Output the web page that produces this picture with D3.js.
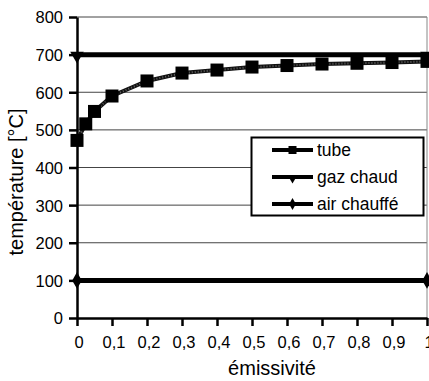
<!DOCTYPE html>
<html><head><meta charset="utf-8">
<script src="https://cdn.jsdelivr.net/npm/d3@7"></script>
<style>
body{margin:0;background:#fff;}
svg text{font-family:"Liberation Sans",Arial,sans-serif;}
</style></head>
<body><svg id="c" width="429" height="381"></svg>
<script>
const emissivity = [0, 0.025, 0.05, 0.1, 0.2, 0.3, 0.4, 0.5, 0.6, 0.7, 0.8, 0.9, 1];
const tube = [472, 516, 549, 590, 630, 651, 659, 667, 671, 675, 677, 679, 682];
const gazX = [0, 1];
const gazChaud = [700, 700];
const airX = [0, 1];
const airChauffe = [100, 100];
const xTicks = [0, 0.1, 0.2, 0.3, 0.4, 0.5, 0.6, 0.7, 0.8, 0.9, 1];
const yTicks = [0, 100, 200, 300, 400, 500, 600, 700, 800];
const seriesNames = ["tube", "gaz chaud", "air chauffé"];

const svg = d3.select("#c");
const L = 77, R = 427, T = 17, B = 318;
const x = d3.scaleLinear().domain([0, 1]).range([L, R]);
const y = d3.scaleLinear().domain([0, 800]).range([B, T]);
const fr = d3.formatLocale({decimal: ",", thousands: " ", grouping: [3], currency: ["", "€"]});
const fx = fr.format(".1~f");
const FF = '"Liberation Sans",Arial,sans-serif';

// gridlines
svg.append("g").selectAll("line").data(yTicks.filter(d => d > 0)).join("line")
  .attr("x1", L).attr("x2", R).attr("y1", d => y(d)).attr("y2", d => y(d))
  .attr("stroke", "#444").attr("stroke-width", 1);
// right border
svg.append("line").attr("x1", R).attr("x2", R).attr("y1", T).attr("y2", B)
  .attr("stroke", "#888").attr("stroke-width", 1);

// axes
const ya = svg.append("g").attr("transform", `translate(${L},0)`)
  .call(d3.axisLeft(y).tickValues(yTicks).tickSize(8).tickSizeOuter(0).tickPadding(6));
const xa = svg.append("g").attr("transform", `translate(0,${B})`)
  .call(d3.axisBottom(x).tickValues(xTicks).tickFormat(fx).tickSize(8).tickSizeOuter(0).tickPadding(10));
[ya, xa].forEach(a => {
  a.selectAll("path,line").attr("stroke", "#000").attr("stroke-width", 2.5);
  a.selectAll("text").attr("font-size", 16.5).attr("fill", "#000").style("font-family", FF);
});
xa.selectAll("text").attr("dy", "0.72em").attr("dx", 1.5);
ya.selectAll("text").attr("dy", "0.36em");

// axis titles
svg.append("text").attr("x", 272).attr("y", 375).attr("text-anchor", "middle")
  .attr("font-size", 20).text("émissivité");
svg.append("text").attr("transform", "translate(23,182) rotate(-90)").attr("text-anchor", "middle")
  .attr("font-size", 20).text("température [°C]");

// lines
const line = d3.line().x(d => x(d[0])).y(d => y(d[1]));
const gazData = gazX.map((v, i) => [v, gazChaud[i]]);
const airData = airX.map((v, i) => [v, airChauffe[i]]);
const tubeData = emissivity.map((v, i) => [v, tube[i]]);

svg.append("path").datum(gazData).attr("d", line).attr("fill", "none")
  .attr("stroke", "#000").attr("stroke-width", 5);
svg.append("path").datum(airData).attr("d", line).attr("fill", "none")
  .attr("stroke", "#000").attr("stroke-width", 5);
svg.append("path").datum(tubeData).attr("d", line).attr("fill", "none")
  .attr("stroke", "#111").attr("stroke-width", 4);
svg.append("path").datum(tubeData).attr("d", line).attr("fill", "none")
  .attr("stroke", "#fff").attr("stroke-opacity", 0.35).attr("stroke-width", 2).attr("stroke-dasharray", "1,2");

// markers
const sq = 13;
svg.append("g").selectAll("rect").data(tubeData).join("rect")
  .attr("x", d => x(d[0]) - sq / 2).attr("y", d => y(d[1]) - sq / 2)
  .attr("width", sq).attr("height", sq).attr("fill", "#000");
const tri = d3.symbol().type(d3.symbolTriangle).size(80);
svg.append("g").selectAll("path").data(gazData).join("path")
  .attr("d", tri).attr("transform", d => `translate(${x(d[0])},${y(d[1]) + 1}) rotate(180)`).attr("fill", "#000");
svg.append("g").selectAll("path").data(airData).join("path")
  .attr("d", d3.symbol().type(d3.symbolDiamond).size(80))
  .attr("transform", d => `translate(${x(d[0])},${y(d[1])})`).attr("fill", "#000");

// legend
const lg = svg.append("g");
lg.append("rect").attr("x", 251.5).attr("y", 137.5).attr("width", 172).attr("height", 78)
  .attr("fill", "#fff").attr("stroke", "#000").attr("stroke-width", 2);
const ly = [150, 177, 204];
seriesNames.forEach((n, i) => {
  lg.append("line").attr("x1", 272).attr("x2", 313).attr("y1", ly[i]).attr("y2", ly[i])
    .attr("stroke", "#000").attr("stroke-width", 4);
  if (i === 0) lg.append("rect").attr("x", 288.5).attr("y", ly[i] - 4).attr("width", 8).attr("height", 8).attr("fill", "#000");
  if (i === 1) lg.append("path").attr("d", d3.symbol().type(d3.symbolTriangle).size(40))
    .attr("transform", `translate(292.5,${ly[i] + 1}) rotate(180)`).attr("fill", "#000");
  if (i === 2) lg.append("path").attr("d", d3.symbol().type(d3.symbolDiamond).size(40))
    .attr("transform", `translate(292.5,${ly[i]})`).attr("fill", "#000");
  lg.append("text").attr("x", 317).attr("y", ly[i]).attr("dy", "0.36em")
    .attr("font-size", 17.5).text(n);
});
</script></body></html>
